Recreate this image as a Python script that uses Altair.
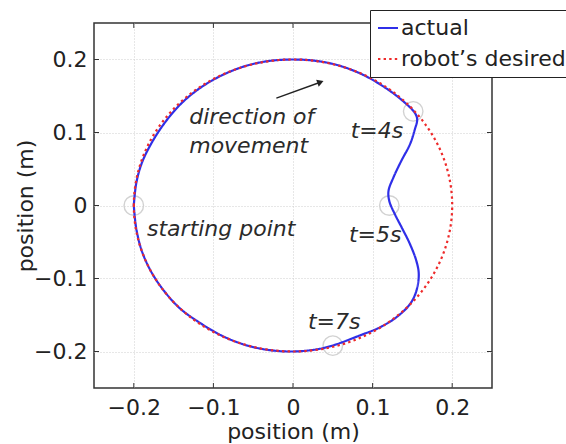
import altair as alt
import numpy as np
import pandas as pd

FONT = "DejaVu Sans"
TEXT_COLOR = "#222222"

# axis layout (metres)
X_DOMAIN = [-0.25, 0.25]
Y_DOMAIN = [-0.25, 0.25]
AXIS_TICKS = [-0.2, -0.1, 0.0, 0.1, 0.2]

# measured end-effector path, clockwise from the starting point
ACTUAL_X = [-0.200, -0.197, -0.190, -0.178, -0.162, -0.142, -0.118, -0.090, -0.060, -0.030,
            0.000, 0.030, 0.060, 0.090, 0.115, 0.135, 0.153, 0.156, 0.153, 0.147,
            0.136, 0.126, 0.120, 0.121, 0.128, 0.137, 0.147, 0.155, 0.158, 0.155,
            0.147, 0.130, 0.109, 0.084, 0.052, 0.030, 0.000, -0.030, -0.060, -0.090,
            -0.118, -0.142, -0.162, -0.178, -0.190, -0.197, -0.200]
ACTUAL_Y = [0.000, 0.030, 0.058, 0.085, 0.112, 0.138, 0.160, 0.178, 0.191, 0.198,
            0.200, 0.198, 0.191, 0.178, 0.162, 0.146, 0.127, 0.118, 0.104, 0.084,
            0.061, 0.038, 0.020, 0.006, -0.012, -0.031, -0.053, -0.076, -0.094, -0.117,
            -0.135, -0.153, -0.167, -0.178, -0.191, -0.197, -0.200, -0.198, -0.191, -0.178,
            -0.160, -0.141, -0.117, -0.091, -0.062, -0.031, 0.000]

# desired path: circle of 0.2 m radius, traversed clockwise from (-0.2, 0)
DESIRED_RADIUS = 0.2
DESIRED_ANGLE_DEG = list(range(180, -181, -3))

SERIES = ["actual", "robot\u2019s desired"]
SERIES_COLORS = ["#2f2fe8", "#ee2a2a"]
SERIES_DASH = [[1, 0], [2.4, 3.2]]

# event markers (start, t=4s, t=5s, t=7s)
MARK_X = [-0.200, 0.151, 0.121, 0.050]
MARK_Y = [0.000, 0.129, 0.000, -0.192]

# annotations
LEFT_TEXT = ["direction of", "movement", "starting point", "t=7s"]
LEFT_X = [-0.1304, -0.1304, -0.1834, 0.0188]
LEFT_Y = [0.1115, 0.0721, -0.0416, -0.169]
RIGHT_TEXT = ["t=4s", "t=5s"]
RIGHT_X = [0.1384, 0.1362]
RIGHT_Y = [0.0925, -0.050]

# direction-of-movement arrow
ARROW_X = [-0.0209, 0.0360]
ARROW_Y = [0.147, 0.1695]
ARROW_HEAD_X = [0.0345]
ARROW_HEAD_Y = [0.169]

# inward tick length in data units
TICK_LEN_X = 0.0063
TICK_LEN_Y = 0.0068

theta = np.deg2rad(DESIRED_ANGLE_DEG)
paths = pd.concat([
    pd.DataFrame({"x": ACTUAL_X, "y": ACTUAL_Y, "idx": range(len(ACTUAL_X)), "series": SERIES[0]}),
    pd.DataFrame({"x": DESIRED_RADIUS * np.cos(theta), "y": DESIRED_RADIUS * np.sin(theta),
                  "idx": range(len(theta)), "series": SERIES[1]}),
], ignore_index=True)

markers = pd.DataFrame({"x": MARK_X, "y": MARK_Y})
left_labels = pd.DataFrame({"x": LEFT_X, "y": LEFT_Y, "t": LEFT_TEXT})
right_labels = pd.DataFrame({"x": RIGHT_X, "y": RIGHT_Y, "t": RIGHT_TEXT})
arrow = pd.DataFrame({"x": ARROW_X, "y": ARROW_Y, "idx": [0, 1]})
arrow_head = pd.DataFrame({"x": ARROW_HEAD_X, "y": ARROW_HEAD_Y})

tick_rows = []
for t in AXIS_TICKS:
    tick_rows.append({"x": t, "x2": t, "y": Y_DOMAIN[0], "y2": Y_DOMAIN[0] + TICK_LEN_Y})
    tick_rows.append({"x": t, "x2": t, "y": Y_DOMAIN[1], "y2": Y_DOMAIN[1] - TICK_LEN_Y})
    tick_rows.append({"x": X_DOMAIN[0], "x2": X_DOMAIN[0] + TICK_LEN_X, "y": t, "y2": t})
    tick_rows.append({"x": X_DOMAIN[1], "x2": X_DOMAIN[1] - TICK_LEN_X, "y": t, "y2": t})
ticks = pd.DataFrame(tick_rows)

x_scale = alt.Scale(domain=X_DOMAIN, nice=False, zero=False)
y_scale = alt.Scale(domain=Y_DOMAIN, nice=False, zero=False)

x_axis = alt.Axis(values=AXIS_TICKS, format=".1~f", title="position (m)", grid=True,
                  ticks=False, domain=False, labelPadding=9,
                  titleY=50, titleBaseline="alphabetic")
y_axis = alt.Axis(values=AXIS_TICKS, format=".1~f", title="position (m)", grid=True,
                  ticks=False, domain=False, labelPadding=7,
                  titleX=-62, titleAngle=270, titleBaseline="alphabetic")


def xe(field="x"):
    return alt.X(f"{field}:Q", scale=x_scale, axis=x_axis)


def ye(field="y"):
    return alt.Y(f"{field}:Q", scale=y_scale, axis=y_axis)


legend = alt.Legend(title=None, orient="none", legendX=276, legendY=-13, direction="vertical",
                    fillColor="white", strokeColor="#222222", padding=7,
                    labelFont=FONT, labelFontSize=22, labelColor=TEXT_COLOR, labelLimit=400,
                    labelOffset=2, symbolType="stroke", symbolSize=400, symbolStrokeWidth=2,
                    rowPadding=9)

lines = alt.Chart(paths).mark_line(strokeWidth=2.2, strokeCap="butt", interpolate="catmull-rom").encode(
    x=xe(), y=ye(),
    color=alt.Color("series:N", scale=alt.Scale(domain=SERIES, range=SERIES_COLORS), legend=legend),
    strokeDash=alt.StrokeDash("series:N", scale=alt.Scale(domain=SERIES, range=SERIES_DASH), legend=legend),
    order=alt.Order("idx:Q"),
)

circles = alt.Chart(markers).mark_point(shape="circle", size=380, filled=False,
                                         stroke="#d2d2d2", strokeWidth=1.4, opacity=1).encode(
    x=xe(), y=ye())

text_style = dict(font=FONT, fontSize=22, fontStyle="italic", color="#2b2b2b", baseline="alphabetic")
left_text = alt.Chart(left_labels).mark_text(align="left", **text_style).encode(
    x=xe(), y=ye(), text="t:N")
right_text = alt.Chart(right_labels).mark_text(align="right", **text_style).encode(
    x=xe(), y=ye(), text="t:N")

arrow_line = alt.Chart(arrow).mark_line(color="#222222", strokeWidth=1.4).encode(
    x=xe(), y=ye(), order="idx:Q")
arrow_tip = alt.Chart(arrow_head).mark_point(shape="triangle-up", angle=70, size=55, filled=True,
                                             color="#222222", opacity=1).encode(x=xe(), y=ye())

inner_ticks = alt.Chart(ticks).mark_rule(color="#333333", strokeWidth=1).encode(
    x=xe(), x2="x2:Q", y=ye(), y2="y2:Q")

chart = alt.layer(inner_ticks, circles, lines, arrow_line, arrow_tip, left_text, right_text).properties(
    width=398, height=365,
    autosize=alt.AutoSizeParams(type="none"),
    padding={"left": 94, "top": 23, "right": 74, "bottom": 56},
    background="white",
).configure_view(
    stroke="#333333", strokeWidth=1.5
).configure_axis(
    labelFont=FONT, labelFontSize=22, labelColor=TEXT_COLOR,
    titleFont=FONT, titleFontSize=22, titleColor=TEXT_COLOR, titleFontWeight="normal",
    gridColor="#cfcfcf", gridDash=[1, 2], gridWidth=1,
)

chart.save("out.html", embed_options={"renderer": "svg", "actions": False})
